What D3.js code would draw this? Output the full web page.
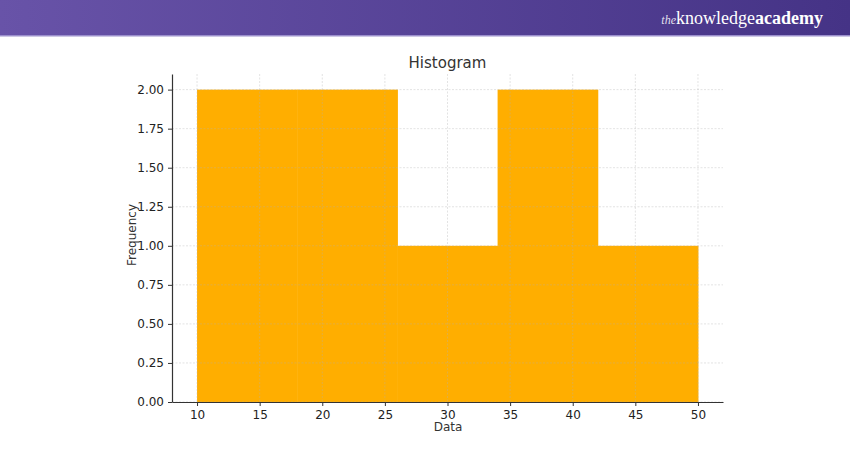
<!DOCTYPE html>
<html><head><meta charset="utf-8">
<script src="https://cdn.jsdelivr.net/npm/d3@7/dist/d3.min.js"></script>
<style>html,body{margin:0;padding:0;background:#fff;}svg{display:block;}</style>
</head><body>
<script>
const binEdges = [10, 18, 26, 34, 42, 50];
const frequencies = [2, 2, 1, 2, 1];
const xTicks = [10, 15, 20, 25, 30, 35, 40, 45, 50];
const yTicks = [0, 0.25, 0.5, 0.75, 1.0, 1.25, 1.5, 1.75, 2.0];

(function () {
const W = 850, H = 450;
const svg = d3.select("body").append("svg").attr("width", W).attr("height", H);

// header
const defs = svg.append("defs");
const g = defs.append("linearGradient").attr("id", "hdr").attr("x1", "0").attr("x2", "1");
g.append("stop").attr("offset", "0").attr("stop-color", "#6853a8");
g.append("stop").attr("offset", "1").attr("stop-color", "#453386");
svg.append("rect").attr("x", 0).attr("y", 0).attr("width", W).attr("height", 36).attr("fill", "url(#hdr)");
svg.append("rect").attr("x", 0).attr("y", 35).attr("width", W).attr("height", 1.5).attr("fill", "#9b8fcc");
const logo = svg.append("text").attr("x", 823).attr("y", 24).attr("text-anchor", "end")
  .attr("fill", "#fff").attr("font-family", "Liberation Serif, DejaVu Serif, serif").attr("font-size", 18);
logo.append("tspan").attr("font-style", "italic").attr("font-size", 12).attr("fill-opacity", 0.85).text("the");
logo.append("tspan").text("knowledge");
logo.append("tspan").attr("font-weight", "bold").text("academy");

const mL = 172, mR = 723, mT = 74, mB = 402;
const x = d3.scaleLinear().domain([8, 52]).range([mL, mR]);
const y = d3.scaleLinear().domain([0, 2.1]).range([mB, mT]);

const bins = frequencies.map((f, i) => ({x0: binEdges[i], x1: binEdges[i + 1], f}));
svg.append("g").selectAll("rect").data(bins).join("rect")
  .attr("x", d => x(d.x0)).attr("width", d => x(d.x1) - x(d.x0) + 0.5)
  .attr("y", d => y(d.f)).attr("height", d => y(0) - y(d.f))
  .attr("fill", "#ffae00");

// grid
const grid = svg.append("g").attr("stroke", "#b0b0b0").attr("stroke-opacity", 0.45)
  .attr("stroke-width", 0.8).attr("stroke-dasharray", "2,1.5");
grid.selectAll(".gx").data(xTicks).join("line")
  .attr("x1", d => x(d)).attr("x2", d => x(d)).attr("y1", mT).attr("y2", mB);
grid.selectAll(".gy").data(yTicks).join("line")
  .attr("x1", mL).attr("x2", mR).attr("y1", d => y(d)).attr("y2", d => y(d));

const font = "DejaVu Sans, sans-serif";
const xAxis = svg.append("g").attr("transform", `translate(0,${mB})`)
  .call(d3.axisBottom(x).tickValues(xTicks).tickSize(4).tickPadding(4).tickSizeOuter(0).tickFormat(d3.format("d")));
const yAxis = svg.append("g").attr("transform", `translate(${mL},0)`)
  .call(d3.axisLeft(y).tickValues(yTicks).tickSize(4).tickPadding(4).tickSizeOuter(0).tickFormat(d3.format(".2f")));
[xAxis, yAxis].forEach(a => {
  a.selectAll("text").attr("font-family", font).attr("font-size", 12).attr("fill", "#222");
  a.selectAll("line").attr("stroke", "#333");
  a.select(".domain").attr("stroke", "#333").attr("stroke-width", 1.2);
});

svg.append("text").attr("x", (mL + mR) / 2).attr("y", 68).attr("text-anchor", "middle")
  .attr("font-family", font).attr("font-size", 15).attr("fill", "#333").text("Histogram");
svg.append("text").attr("x", 448).attr("y", 431).attr("text-anchor", "middle")
  .attr("font-family", font).attr("font-size", 12).attr("fill", "#333").text("Data");
svg.append("text").attr("transform", `translate(136,235) rotate(-90)`).attr("text-anchor", "middle")
  .attr("font-family", font).attr("font-size", 12).attr("fill", "#333").text("Frequency");
})();
</script>
</body></html>
